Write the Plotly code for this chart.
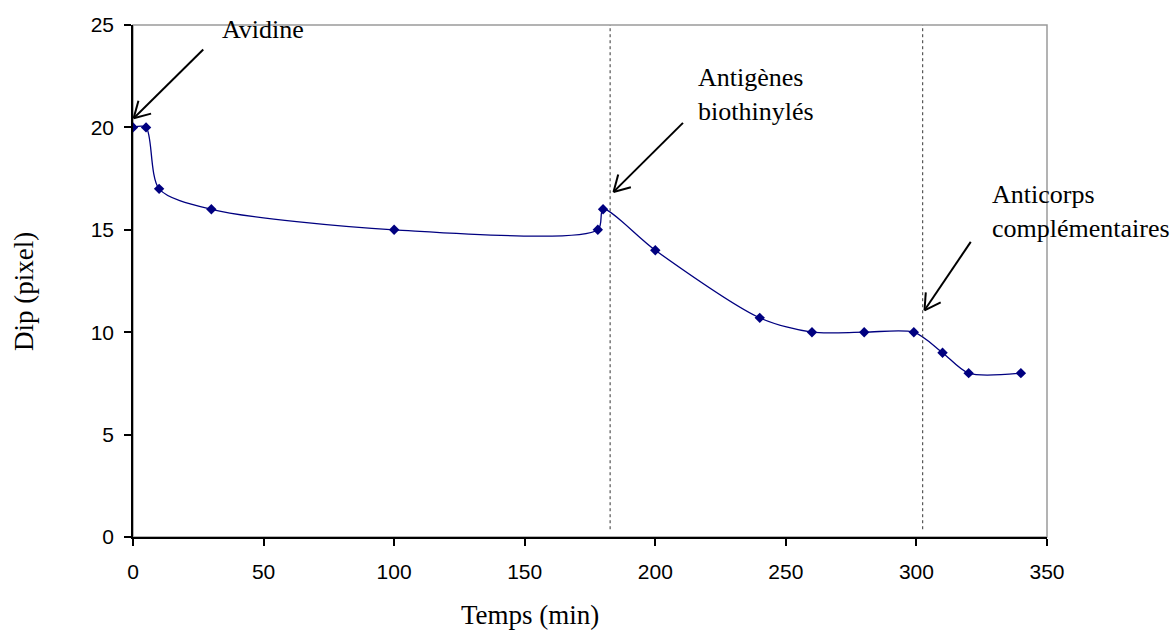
import math
import plotly.graph_objects as go

# ---- data ----
time_min = [0, 5, 10, 30, 100, 178, 180, 200, 240, 260, 280, 299, 310, 320, 340]
dip_px = [20, 20, 17, 16, 15, 15, 16, 14, 10.7, 10, 10, 10, 9, 8, 8]

x_ticks = [0, 50, 100, 150, 200, 250, 300, 350]
y_ticks = [0, 5, 10, 15, 20, 25]

event_x = [182.7, 302.4]
event_labels = ["Avidine", "Antigènes<br>biothinylés", "Anticorps<br>complémentaires"]
label_x = [33.5, 215.5, 328.0]
label_y = [24.8, 21.6, 15.9]
arrow_tip_x = [0.25, 184.0, 303.1]
arrow_tip_y = [20.45, 16.85, 11.07]
arrow_tail_x = [26.9, 210.6, 320.8]
arrow_tail_y = [23.8, 20.22, 14.41]

# ---- layout geometry ----
W, H = 1173, 630
ML, MR, MT, MB = 133, 126, 25, 93
XR = [0, 350]
YR = [0, 25]
pw = W - ML - MR
ph = H - MT - MB
ppx = pw / (XR[1] - XR[0])
ppy = ph / (YR[1] - YR[0])

NAVY = "#000080"
SERIF = "Liberation Serif, Times New Roman, serif"
SANS = "Liberation Sans, Arial, sans-serif"

fig = go.Figure()
fig.add_trace(go.Scatter(
    x=time_min, y=dip_px, mode="lines+markers",
    line=dict(color=NAVY, width=1.3, shape="spline", smoothing=0.8),
    marker=dict(symbol="diamond", size=8, color=NAVY),
    showlegend=False, hoverinfo="x+y",
))

shapes = []
# plot frame (grey top/right)
shapes.append(dict(type="rect", xref="paper", yref="paper", x0=0, x1=1, y0=0, y1=1,
                   line=dict(color="#9a9a9a", width=1.5), layer="below"))
# dotted event lines
for ex in event_x:
    shapes.append(dict(type="line", xref="x", yref="y", x0=ex, x1=ex, y0=0.38, y1=25,
                       line=dict(color="#333333", width=1, dash="dot")))
# arrows with open V heads
wing_len = 18
half_ang = math.radians(30)
for tx, ty, sx, sy in zip(arrow_tip_x, arrow_tip_y, arrow_tail_x, arrow_tail_y):
    shapes.append(dict(type="line", xref="x", yref="y", x0=sx, y0=sy, x1=tx, y1=ty,
                       line=dict(color="black", width=2)))
    dx = (sx - tx) * ppx
    dy = (sy - ty) * ppy
    ang = math.atan2(dy, dx)
    for s in (-1, 1):
        a = ang + s * half_ang
        wx = tx + wing_len * math.cos(a) / ppx
        wy = ty + wing_len * math.sin(a) / ppy
        shapes.append(dict(type="line", xref="x", yref="y", x0=tx, y0=ty, x1=wx, y1=wy,
                           line=dict(color="black", width=2)))

annotations = []
for t, lx, ly in zip(event_labels, label_x, label_y):
    annotations.append(dict(text=t, x=lx, y=ly, xref="x", yref="y", showarrow=False,
                            xanchor="left", yanchor="middle", align="left",
                            font=dict(family=SERIF, size=26, color="black")))
# axis titles
annotations.append(dict(text="Temps (min)", x=152.0, y=-0.153, xref="x", yref="paper",
                        showarrow=False, xanchor="center", yanchor="middle",
                        font=dict(family=SERIF, size=27, color="black")))
annotations.append(dict(text="Dip (pixel)", x=-0.119, y=0.479, xref="paper", yref="paper",
                        showarrow=False, xanchor="center", yanchor="middle", textangle=-90,
                        font=dict(family=SERIF, size=27, color="black")))

fig.update_layout(
    width=W, height=H,
    margin=dict(l=ML, r=MR, t=MT, b=MB),
    paper_bgcolor="white", plot_bgcolor="white",
    shapes=shapes, annotations=annotations,
    xaxis=dict(range=XR, tickvals=x_ticks, showgrid=False, zeroline=False,
               showline=True, linecolor="black", linewidth=1.5,
               ticks="outside", ticklen=7, tickcolor="black", tickwidth=1.5,
               ticklabelstandoff=8,
               tickfont=dict(family=SANS, size=21, color="black")),
    yaxis=dict(range=YR, tickvals=y_ticks, showgrid=False, zeroline=False,
               showline=True, linecolor="black", linewidth=1.5,
               ticks="outside", ticklen=7, tickcolor="black", tickwidth=1.5,
               ticklabelstandoff=6,
               tickfont=dict(family=SANS, size=21, color="black")),
)

fig.write_html("out.html", config={"displayModeBar": False},
               post_script="document.body.style.margin='0';document.body.style.overflow='hidden';")
